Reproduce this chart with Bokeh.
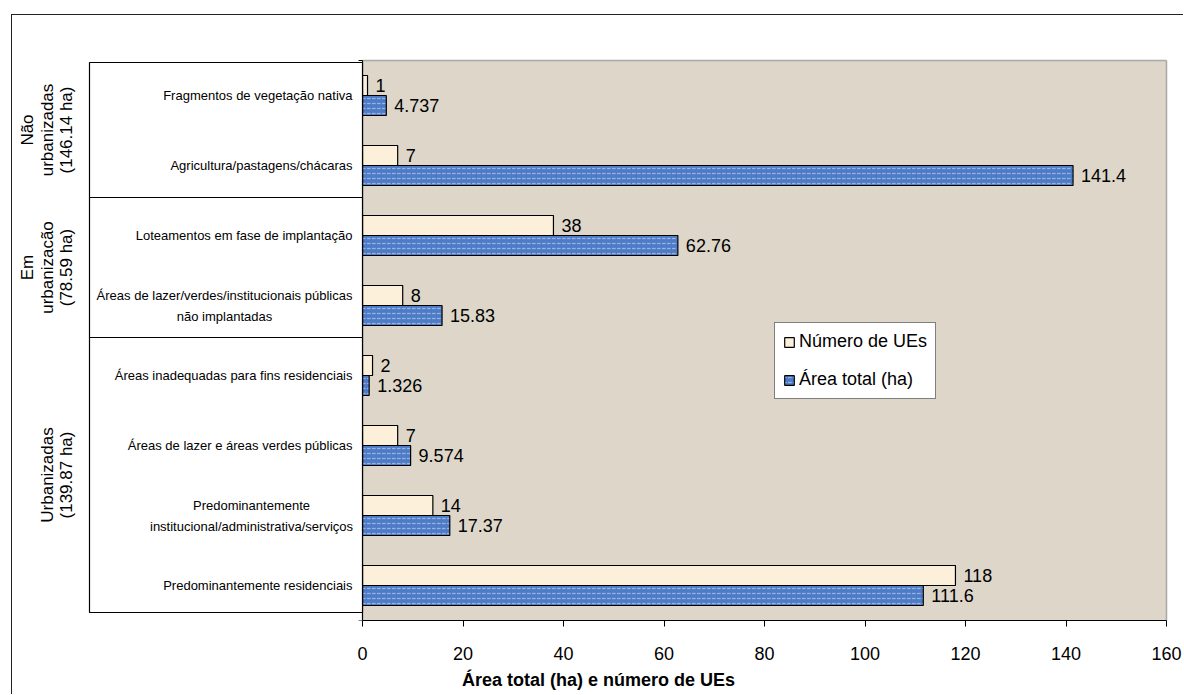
import math

from bokeh.core.properties import value
from bokeh.embed import file_html
from bokeh.models import ColumnDataSource, FixedTicker, Legend, LegendItem, Range1d
from bokeh.plotting import figure
from bokeh.resources import INLINE

# ---- data -------------------------------------------------------------
categories = [
    "Fragmentos de vegetação nativa",
    "Agricultura/pastagens/chácaras",
    "Loteamentos em fase de implantação",
    "Áreas de lazer/verdes/institucionais públicas\nnão implantadas",
    "Áreas inadequadas para fins residenciais",
    "Áreas de lazer e áreas verdes públicas",
    "Predominantemente\ninstitucional/administrativa/serviços",
    "Predominantemente residenciais",
]
num_ues = [1, 7, 38, 8, 2, 7, 14, 118]
area_ha = [4.737, 141.4, 62.76, 15.83, 1.326, 9.574, 17.37, 111.6]

groups = [
    "Não\nurbanizadas\n(146.14 ha)",
    "Em\nurbanizacão\n(78.59 ha)",
    "Urbanizadas\n(139.87 ha)",
]
group_sizes = [2, 2, 4]

x_ticks = [0, 20, 40, 60, 80, 100, 120, 140, 160]
x_max = 160

# ---- layout -----------------------------------------------------------
FONT = "Liberation Sans"
W, H = 1172, 680          # figure size (inside the outer border)
FRAME_H = 605             # frame height; the rest is taken by the x axis
X0_PX = 350               # distance from frame left edge to x = 0
PX_PER_X = 5.025          # pixels per x unit
BAND_PX = 70              # pixels per category band
BAR_PX = 20               # pixel height of each bar
TABLE_LEFT_PX = 273       # width of the category table left of x = 0

x_start = -X0_PX / PX_PER_X
x_end = x_start + W / PX_PER_X
n = len(categories)
y_end = FRAME_H / BAND_PX

BG = "#DDD6C9"
CREAM = "#FDF0DA"
BLUE = "#4D7BC6"

p = figure(
    width=W, height=H,
    x_range=Range1d(x_start, x_end), y_range=Range1d(0, y_end),
    output_backend="svg", toolbar_location=None, tools="",
    y_axis_location=None,
    min_border_left=0, min_border_right=0, min_border_top=0,
    min_border_bottom=H - FRAME_H,
    styles={
        "margin-left": "11px", "margin-top": "14px",
        "border-left": "1px solid #222", "border-top": "1px solid #222",
    },
)
p.outline_line_color = None
p.xgrid.visible = False
p.ygrid.visible = False
p.background_fill_color = "white"
p.border_fill_color = "white"

# plot area background and its grey top/right border
p.quad(left=[0], right=[x_max], bottom=[0], top=[n], fill_color=BG, line_color=None)
p.segment(x0=[0, x_max], y0=[n, n], x1=[x_max, x_max], y1=[n, 0],
          line_color="#A8A8A8", line_width=1.5)

# bars: two per category band, counts above and areas below
centers = [n - i - 0.5 for i in range(n)]
bar_h = BAR_PX / BAND_PX
src = ColumnDataSource(dict(
    cat=categories,
    y_num=[c + bar_h / 2 for c in centers],
    y_area=[c - bar_h / 2 for c in centers],
    num=num_ues, area=area_ha,
    num_txt=[str(v) for v in num_ues],
    area_txt=[str(v) for v in area_ha],
))

r_num = p.hbar(y="y_num", right="num", left=0, height=bar_h, source=src,
               fill_color=CREAM, line_color="black", line_width=1.2)
r_area = p.hbar(y="y_area", right="area", left=0, height=bar_h, source=src,
                fill_color=BLUE, line_color="black", line_width=1.2,
                hatch_pattern="horizontal_dash", hatch_color="#A8C0EA", hatch_alpha=0.8,
                hatch_scale=5, hatch_weight=1.3)

for ycol, xcol, tcol in (("y_num", "num", "num_txt"), ("y_area", "area", "area_txt")):
    p.text(x=xcol, y=ycol, text=tcol, source=src, x_offset=8,
           text_font=value(FONT), text_font_size="18px",
           text_align="left", text_baseline="middle", text_color="black")

# vertical axis line with ticks at band boundaries
tick_len = 4 / PX_PER_X
p.segment(x0=[0], y0=[0], x1=[0], y1=[n], line_color="black", line_width=1.2)
p.segment(x0=[-tick_len] * (n + 1), y0=list(range(n + 1)),
          x1=[0] * (n + 1), y1=list(range(n + 1)), line_color="black", line_width=1)

# category table: one box per group
table_left = -TABLE_LEFT_PX / PX_PER_X
bounds = [n]
for s in group_sizes:
    bounds.append(bounds[-1] - s)
inset = [2 / BAND_PX] + [-3 / BAND_PX] * (len(group_sizes) - 1) + [-8 / BAND_PX]
box_top = [bounds[i] - inset[i] for i in range(len(group_sizes))]
box_bot = [bounds[i + 1] - inset[i + 1] for i in range(len(group_sizes))]
p.quad(left=[table_left] * len(groups), right=[0] * len(groups),
       top=box_top, bottom=box_bot, fill_color="white", line_color="black", line_width=1.2)

# category labels
single = [i for i, c in enumerate(categories) if "\n" not in c]
multi = [i for i, c in enumerate(categories) if "\n" in c]
p.text(x=[0] * len(single), y=[centers[i] for i in single],
       text=[categories[i] for i in single], x_offset=-10,
       text_font=value(FONT), text_font_size="13px",
       text_align="right", text_baseline="middle", text_color="black")
multi_offsets = [-138, -111]
p.text(x=[0] * len(multi), y=[centers[i] for i in multi],
       text=[categories[i] for i in multi], x_offset=multi_offsets,
       text_font=value(FONT), text_font_size="13px", text_line_height=1.4,
       text_align="center", text_baseline="middle", text_color="black")

# rotated group labels
group_x = (76 - 362) / PX_PER_X
p.text(x=[group_x] * len(groups),
       y=[(box_top[i] + box_bot[i]) / 2 for i in range(len(groups))],
       text=groups, angle=math.pi / 2,
       text_font=value(FONT), text_font_size="17px", text_line_height=1.05,
       text_align="center", text_baseline="bottom", text_color="black")

# x axis
ax = p.xaxis[0]
ax.ticker = FixedTicker(ticks=x_ticks)
ax.bounds = (0, x_max)
ax.axis_line_color = "black"
ax.axis_line_width = 1.2
ax.major_tick_out = 6
ax.major_tick_in = 0
ax.minor_tick_line_color = None
ax.major_label_standoff = 20
ax.major_label_text_font = FONT
ax.major_label_text_font_size = "18px"
ax.major_label_text_color = "black"
ax.axis_label = "Área total (ha) e número de UEs"
ax.axis_label_text_font = FONT
ax.axis_label_text_font_size = "18px"
ax.axis_label_text_font_style = "bold"
ax.axis_label_text_color = "black"
ax.axis_label_standoff = 7

legend = Legend(
    items=[LegendItem(label="Número de UEs", renderers=[r_num]),
           LegendItem(label="Área total (ha)", renderers=[r_area])],
    location=(762, 221),
    label_text_font=FONT, label_text_font_size="18px", label_text_color="black",
    glyph_width=12, glyph_height=12, label_height=20, label_standoff=4,
    spacing=17, padding=8, margin=0,
    border_line_color="black", border_line_width=1,
    background_fill_color="white", background_fill_alpha=1,
)
p.add_layout(legend)

open("out.html", "w").write(file_html(p, INLINE))
